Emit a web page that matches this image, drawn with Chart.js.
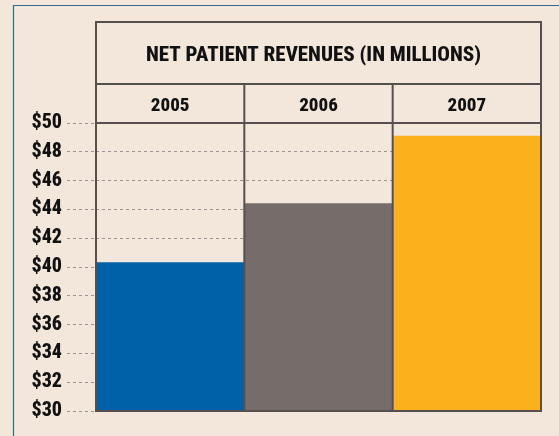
<!DOCTYPE html>
<html>
<head>
<meta charset="utf-8">
<script src="https://cdn.jsdelivr.net/npm/chart.js@4.4.0/dist/chart.umd.min.js"></script>
<style>
  html, body { margin: 0; padding: 0; background: #f3e6da; }
  #wrap { width: 559px; height: 436px; }
</style>
</head>
<body>
<div id="wrap"><canvas id="grafico" width="559" height="436"></canvas></div>
<script>
const titulo = 'NET PATIENT REVENUES (IN MILLIONS)';
const anios = ['2005', '2006', '2007'];
const ingresos = [40.3, 44.4, 49.1];
const colores = ['#0061a8', '#766d6b', '#fbb11c'];
const ejeMin = 30, ejeMax = 50, ejePaso = 2;

const FUENTE = '"Roboto Condensed", "Open Sans Condensed", sans-serif';
const LINEA = '#574f4e';

// marco exterior azul + tabla (titulo, fila de años, columnas)
const tablaPlugin = {
  id: 'tabla',
  beforeDraw(chart) {
    const ctx = chart.ctx;
    ctx.save();
    ctx.strokeStyle = '#2d6d8c';
    ctx.lineWidth = 1.2;
    ctx.beginPath();
    ctx.moveTo(559, 5.5); ctx.lineTo(13.5, 5.5); ctx.lineTo(13.5, 436);
    ctx.stroke();
    ctx.restore();
  },
  afterDatasetsDraw(chart) {
    const { ctx, chartArea: a, scales: { x } } = chart;
    const top = 22, filaAnio = 84;
    ctx.save();
    ctx.strokeStyle = LINEA;
    ctx.lineWidth = 2;
    ctx.strokeRect(a.left, top, a.right - a.left, a.bottom - top);
    ctx.beginPath();
    ctx.moveTo(a.left, filaAnio); ctx.lineTo(a.right, filaAnio);
    ctx.moveTo(a.left, a.top); ctx.lineTo(a.right, a.top);
    const paso = x.getPixelForValue(1) - x.getPixelForValue(0);
    for (let i = 1; i < anios.length; i++) {
      const px = x.getPixelForValue(i) - paso / 2;
      ctx.moveTo(px, filaAnio); ctx.lineTo(px, a.bottom);
    }
    ctx.stroke();
    ctx.fillStyle = '#111';
    ctx.font = '800 21px ' + FUENTE;
    ctx.textAlign = 'center';
    ctx.textBaseline = 'middle';
    ctx.fillText(titulo, (a.left + a.right) / 2 - 5, 56);
    ctx.restore();
  }
};

new Chart(document.getElementById('grafico'), {
  type: 'bar',
  data: {
    labels: anios,
    datasets: [{ data: ingresos, backgroundColor: colores, borderWidth: 0,
                 categoryPercentage: 1, barPercentage: 1 }]
  },
  options: {
    responsive: false,
    animation: false,
    layout: { padding: { left: 0, right: 18, top: 0, bottom: 25 } },
    plugins: { legend: { display: false }, tooltip: { enabled: false } },
    scales: {
      x: {
        position: 'top',
        grid: { display: false, drawTicks: false },
        border: { display: false },
        ticks: { color: '#111', padding: 5, font: { family: FUENTE, size: 19, weight: 800 } },
        afterFit(s) { s.height = 123; }
      },
      y: {
        min: ejeMin, max: ejeMax,
        grid: { color: '#9a9494', lineWidth: 1, tickLength: 29, tickColor: '#9a9494',
                tickBorderDash: [3, 3] },
        border: { display: false, dash: [3, 3] },
        ticks: { stepSize: ejePaso, padding: 5, color: '#111',
                 font: { family: FUENTE, size: 20, weight: 800 },
                 callback: v => '$' + v },
        afterFit(s) { s.width = 96; }
      }
    }
  },
  plugins: [tablaPlugin]
});
</script>
</body>
</html>
